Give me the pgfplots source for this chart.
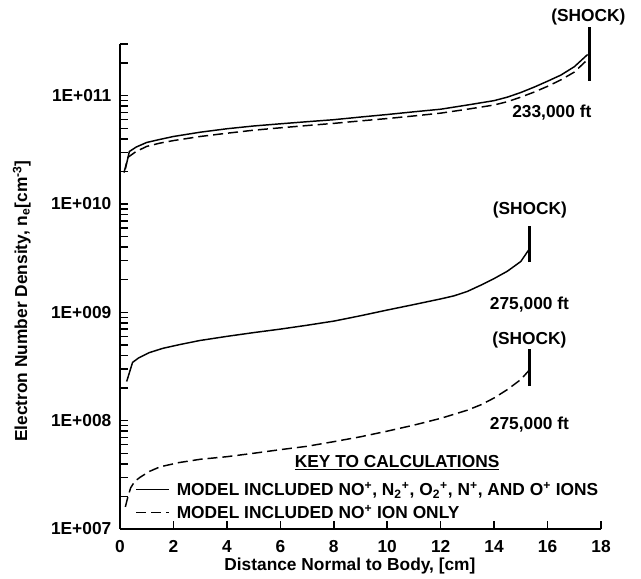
\documentclass[border=0pt]{standalone}
\usepackage{fontspec}
\setmainfont{Liberation Sans}
\usepackage{pgfplots}
\pgfplotsset{compat=1.18}

\newcommand{\lbl}{\bfseries\fontsize{13}{15.5}\selectfont}

\begin{document}
\begin{tikzpicture}
\path[use as bounding box] (-90pt,-36.75pt) rectangle (390.75pt,396.75pt);
\begin{axis}[
  scale only axis, width=360.75pt, height=363.75pt,
  ymode=log, xmin=0, xmax=18, ymin=1e7, ymax=3e11,
  axis x line=bottom, axis y line=left,
  axis line style={-, line width=1.5pt},
  clip=false,
  xtick={0,2,...,18},
  ytick={1e7,1e8,1e9,1e10,1e11},
  yticklabels={1E+007,1E+008,1E+009,1E+010,1E+011},
  minor ytick={2e7,3e7,4e7,5e7,6e7,7e7,8e7,9e7,
               2e8,3e8,4e8,5e8,6e8,7e8,8e8,9e8,
               2e9,3e9,4e9,5e9,6e9,7e9,8e9,9e9,
               2e10,3e10,4e10,5e10,6e10,7e10,8e10,9e10,
               2e11,3e11},
  tick align=inside, major tick length=6pt, minor tick length=6pt,
  every tick/.style={black, line width=1.1pt},
  /pgf/number format/assume math mode=true,
  ticklabel style={font=\lbl},
  xticklabel style={yshift=-5pt},
  yticklabel style={xshift=-3pt},
  xlabel={Distance Normal to Body, [cm]},
  ylabel={Electron Number Density, n\textsubscript{e}[cm\textsuperscript{-3}]},
  label style={font=\lbl},
  xlabel style={at={(axis description cs:0.478,-0.076)}, anchor=center},
  ylabel style={at={(axis description cs:-0.204,0.47)}, anchor=center},
  legend style={draw=none, fill=none, at={(axis description cs:0.023,0.108)},
    anchor=north west, font=\lbl, row sep=2pt},
  legend cell align=left,
  legend image code/.code={\draw[#1] (0pt,0pt) -- (24.75pt,0pt); \path (28pt,0pt);},
]
% 275,000 ft, all five ions
\addplot[black, line width=1.1pt] coordinates {
  (0.25,2.3e8) (0.47,3.45e8) (0.7,3.8e8) (1.1,4.25e8) (1.6,4.65e8)
  (2.25,5.05e8) (3,5.5e8) (4,6.0e8) (5,6.5e8) (6,7.0e8) (7,7.6e8)
  (8,8.3e8) (9,9.3e8) (10,1.05e9) (11,1.18e9) (12,1.33e9) (12.5,1.42e9)
  (13,1.56e9) (13.5,1.78e9) (14,2.05e9) (14.5,2.4e9) (15,2.95e9)
  (15.32,3.85e9)};
\addlegendentry{MODEL INCLUDED NO\textsuperscript{+}, N\textsubscript{2}\textsuperscript{+}, O\textsubscript{2}\textsuperscript{+}, N\textsuperscript{+}, AND O\textsuperscript{+} IONS}
% 275,000 ft, NO+ only
\addplot[black, line width=1.1pt, dash pattern=on 7.5pt off 3.75pt] coordinates {
  (0.2,1.6e7) (0.3,2.0e7) (0.4,2.4e7) (0.55,2.75e7) (0.75,3.0e7)
  (1.1,3.4e7) (1.5,3.75e7) (2.2,4.1e7) (3,4.4e7) (4,4.65e7) (5,5.0e7)
  (6,5.4e7) (7,5.8e7) (8,6.4e7) (9,7.1e7) (10,8.0e7) (11,9.1e7)
  (12,1.05e8) (13,1.25e8) (13.5,1.4e8) (14,1.62e8) (14.5,1.94e8)
  (15,2.4e8) (15.3,2.9e8)};
\addlegendentry{MODEL INCLUDED NO\textsuperscript{+} ION ONLY}
% 233,000 ft, all five ions
\addplot[black, line width=1.1pt, forget plot] coordinates {
  (0.2,2.1e10) (0.35,3.05e10) (0.6,3.35e10) (1.0,3.7e10) (1.5,3.95e10)
  (2,4.2e10) (3,4.6e10) (4,4.95e10) (5,5.25e10) (6,5.5e10) (7,5.75e10)
  (8,6.0e10) (9,6.35e10) (10,6.7e10) (11,7.1e10) (12,7.5e10) (13,8.2e10)
  (14,9.0e10) (14.5,9.7e10) (15,1.07e11) (15.5,1.2e11) (16,1.36e11)
  (16.5,1.55e11) (17,1.85e11) (17.5,2.4e11)};
% 233,000 ft, NO+ only
\addplot[black, line width=1.1pt, dash pattern=on 7.5pt off 3.75pt, forget plot] coordinates {
  (0.15,1.95e10) (0.3,2.7e10) (0.6,3.05e10) (1.0,3.4e10) (1.5,3.65e10)
  (2,3.85e10) (3,4.2e10) (4,4.5e10) (5,4.8e10) (6,5.05e10) (7,5.3e10)
  (8,5.55e10) (9,5.85e10) (10,6.15e10) (11,6.5e10) (12,6.9e10)
  (13,7.5e10) (14,8.2e10) (14.5,8.8e10) (15,9.7e10) (15.5,1.08e11)
  (16,1.22e11) (16.5,1.4e11) (17,1.65e11) (17.45,2.1e11)};
% shock positions
\addplot[black, line width=1.9pt, forget plot] coordinates {(17.56,1.38e11) (17.56,4.3e11)};
\addplot[black, line width=1.9pt, forget plot] coordinates {(15.32,2.9e9) (15.32,6.25e9)};
\addplot[black, line width=1.9pt, forget plot] coordinates {(15.32,2.08e8) (15.32,4.54e8)};
% annotations
\node[font=\lbl] at (axis cs:17.53,5.36e11) {(SHOCK)};
\node[font=\lbl] at (axis cs:16.16,6.92e10) {233,000 ft};
\node[font=\lbl] at (axis cs:15.34,8.86e9) {(SHOCK)};
\node[font=\lbl] at (axis cs:15.32,1.17e9) {275,000 ft};
\node[font=\lbl] at (axis cs:15.32,5.54e8) {(SHOCK)};
\node[font=\lbl] at (axis cs:15.32,9.18e7) {275,000 ft};
\node[font=\lbl] at (axis cs:10.37,4.08e7) {\underline{KEY TO CALCULATIONS}};
\end{axis}
\end{tikzpicture}
\end{document}
